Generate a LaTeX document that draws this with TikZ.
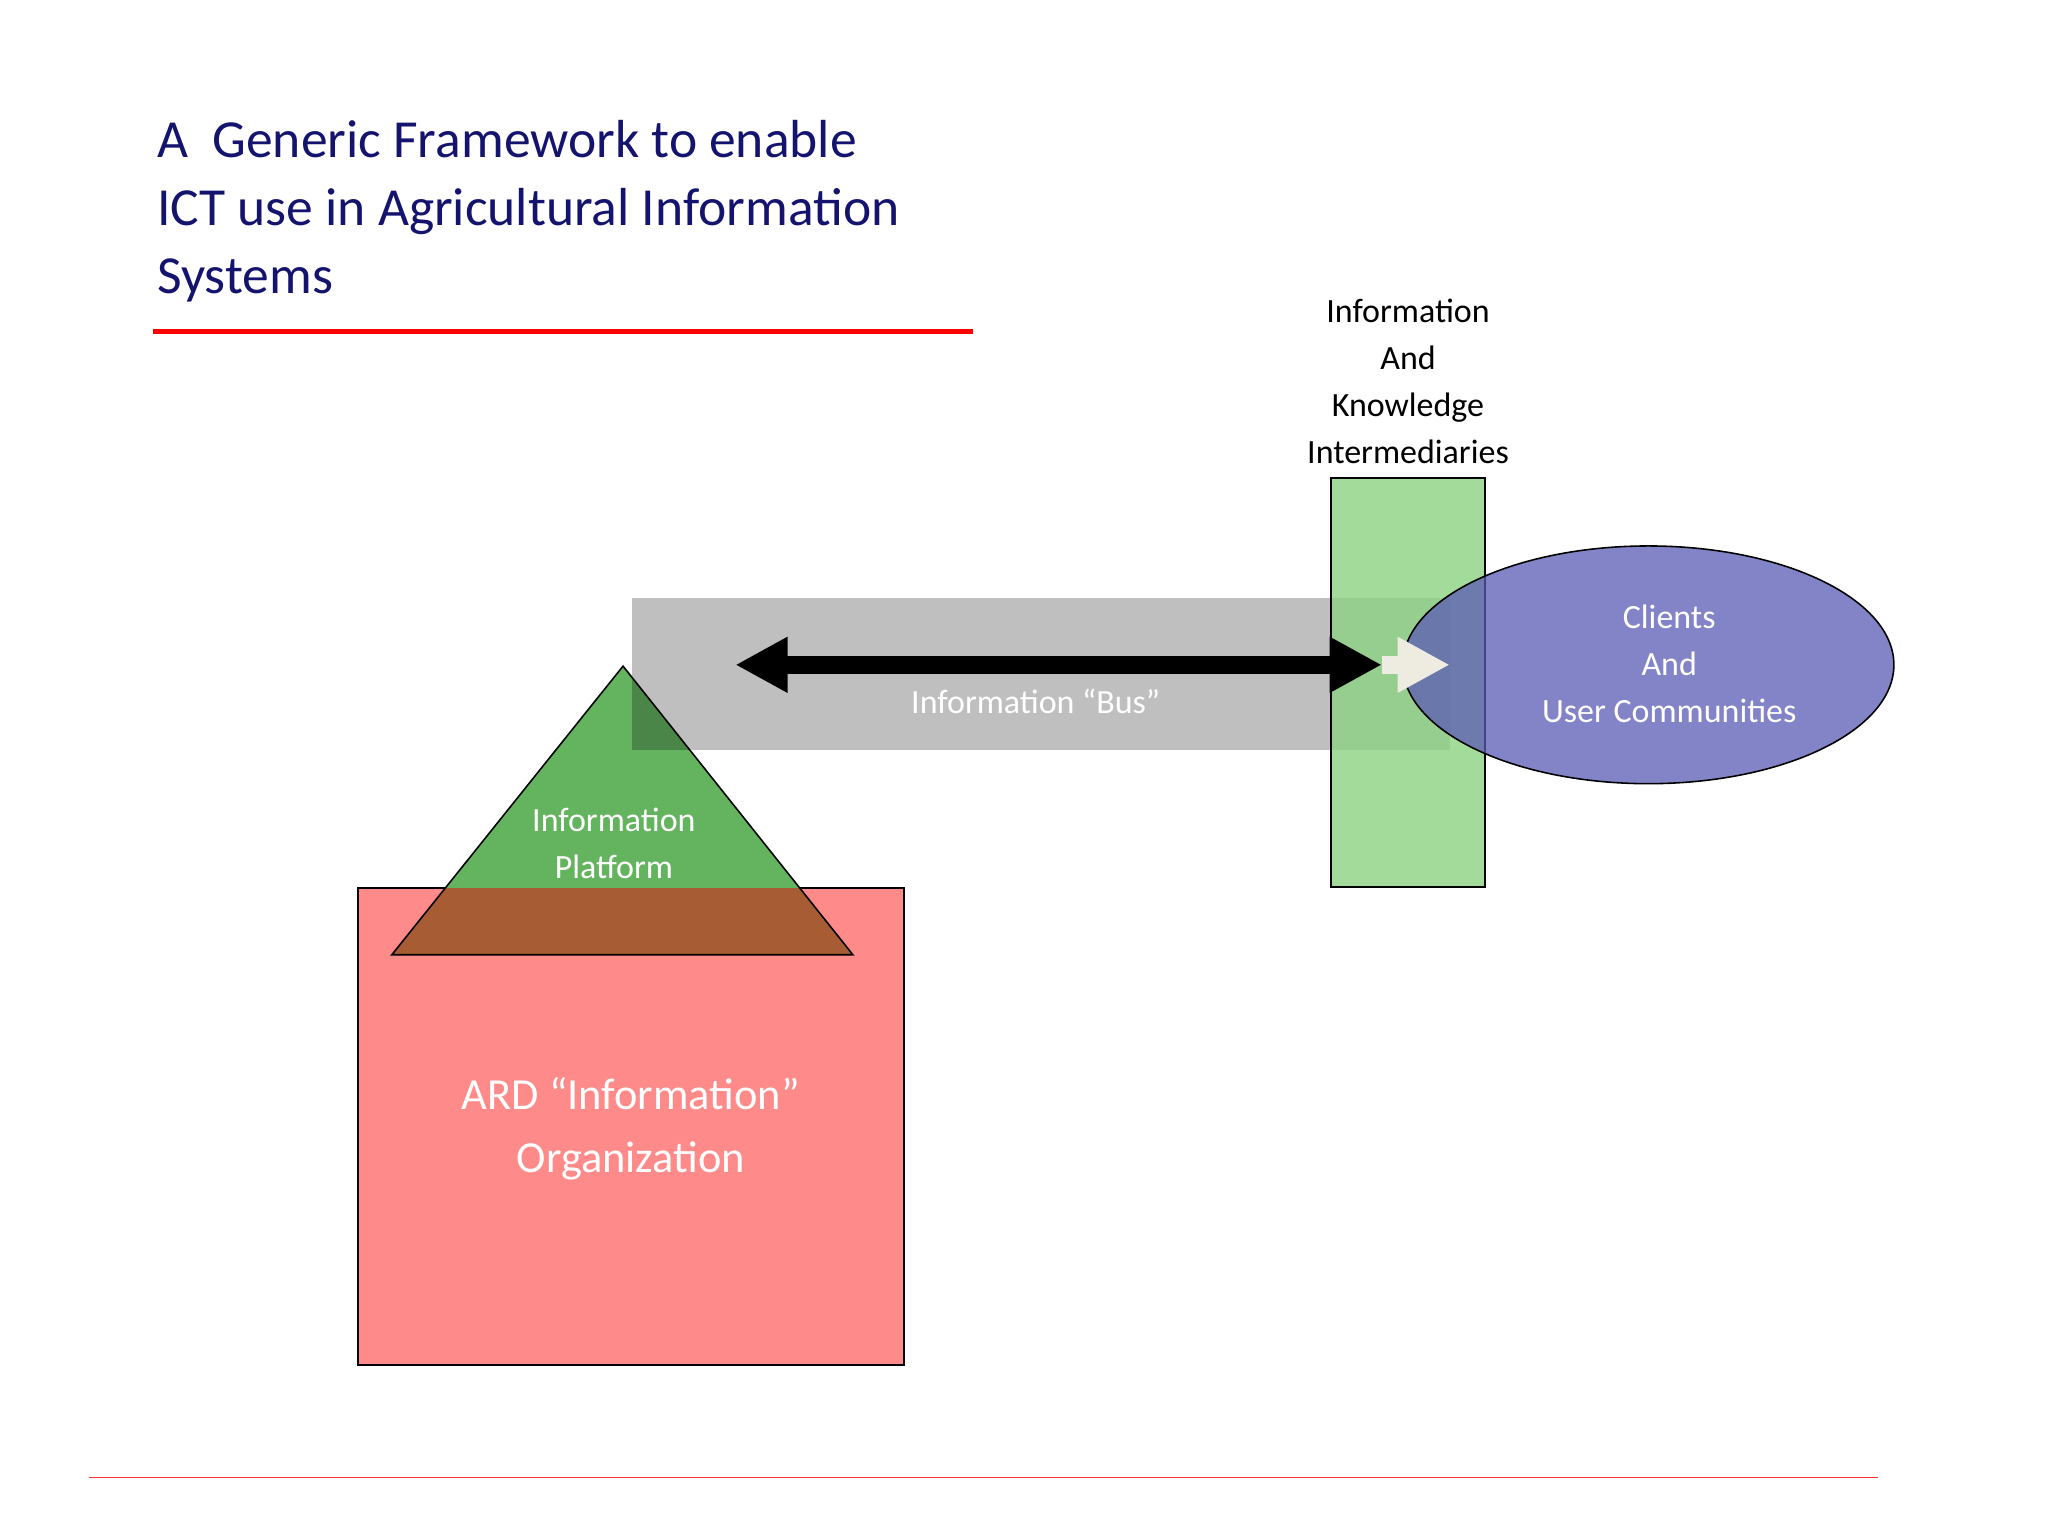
\documentclass[tikz,border=0pt]{standalone}
\usepackage{fontspec}
\setmainfont{Carlito}
\usetikzlibrary{arrows.meta}
\definecolor{navy}{RGB}{20,20,110}
\definecolor{pinkf}{RGB}{255,138,138}
\definecolor{trig}{RGB}{100,180,95}
\definecolor{brownf}{RGB}{168,92,52}
\definecolor{greenf}{RGB}{140,210,130}
\definecolor{ellf}{RGB}{90,90,180}
\definecolor{whitearr}{RGB}{238,236,225}
\tikzset{wt/.style={text=white,align=center,font=\fontsize{13}{18}\selectfont},
 bt/.style={text=black,align=center,font=\fontsize{13}{18}\selectfont}}
\begin{document}
\begin{tikzpicture}[x=0.5pt,y=-0.5pt]
\useasboundingbox (0,0) rectangle (1568,1176);
\node[anchor=north west,text=navy,align=left,font=\fontsize{20.5}{26}\selectfont,inner sep=0] (title) at (120,92) {A\ \ Generic Framework to enable\\ICT use in Agricultural Information\\Systems};
\draw[red,line width=2pt] (117,254) coordinate (r1) -- (745,254) coordinate (r2);
\draw[red!80!white,line width=0.5pt] (68,1131) coordinate (b1) -- (1438,1131) coordinate (b2);
% rect + triangle
\fill[pinkf,draw=black,line width=0.6pt] (274,680) rectangle (692,1045);
\fill[trig] (477,510) -- (653,731) -- (300,731) -- cycle;
\begin{scope}
\clip (274,680) rectangle (692,1045);
\fill[brownf] (477,510) -- (653,731) -- (300,731) -- cycle;
\end{scope}
\draw[black,line width=0.6pt] (477,510) -- (653,731) -- (300,731) -- cycle;
\node[wt,font=\fontsize{17}{24}\selectfont] (ard) at (483,864) {ARD “Information”\\Organization};
\node[wt] (plat) at (470,646) {Information\\Platform};
% bus
\fill[black,opacity=0.25] (484,458) rectangle (1110,574);
\node[wt] (bus) at (793,537) {Information “Bus”};
% green rect
\fill[greenf,opacity=0.8,draw=black,draw opacity=1,line width=0.6pt] (1019,366) rectangle (1137,679);
\node[bt,anchor=south] (inter) at (1078,362) {Information\\And\\Knowledge\\Intermediaries};
% ellipse
\fill[ellf,fill opacity=0.75,draw=black,line width=0.6pt] (1262,509) ellipse [x radius=188,y radius=91];
\node[wt] (cli) at (1278,508) {Clients\\And\\User Communities};
% arrows
\coordinate (aL) at (563,509);
\coordinate (aR) at (1058,509);
\coordinate (wE) at (1110,509);
\draw[whitearr,line width=7pt,-{Triangle[length=20pt,width=20pt]}] (aR) -- (wE);
\draw[black,line width=7pt,{Triangle[length=20pt,width=20pt]}-{Triangle[length=20pt,width=20pt]}] (aL) -- (aR);
\end{tikzpicture}
\end{document}
